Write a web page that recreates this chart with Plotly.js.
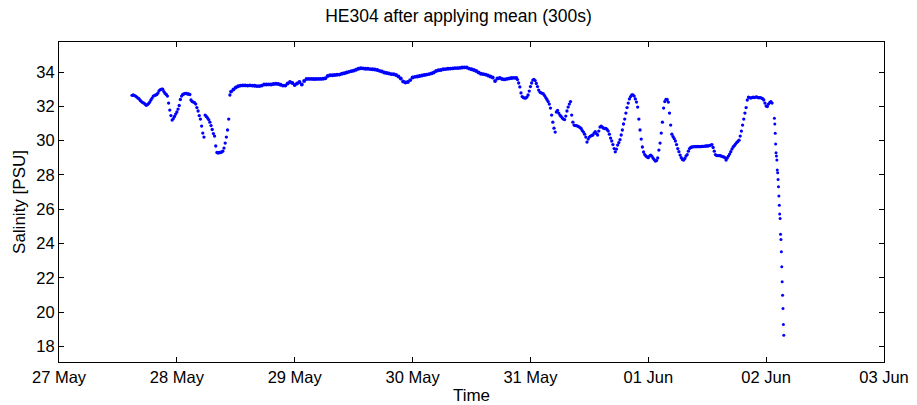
<!DOCTYPE html>
<html>
<head>
<meta charset="utf-8">
<script src="https://cdn.plot.ly/plotly-3.0.1.min.js"></script>
<style>html,body{margin:0;padding:0;background:#fff;}#chart{width:917px;height:405px;}</style>
</head>
<body>
<div id="chart"></div>
<script>
// Segment 1: 27 May 14:52:48, every 864 s
const seg1Start = '2009-05-27 14:52:48';
const seg1StepSec = 864;
const seg1Salinity = [
32.64,32.66,32.63,32.60,32.54,32.48,32.43,32.34,32.28,32.22,
32.19,32.13,32.06,32.10,32.16,32.25,32.37,32.48,32.60,32.63,
32.66,32.69,32.78,32.92,32.97,33.00,33.00,32.86,32.75,32.69,
32.60,32.19,31.78,31.46,31.20,31.29,31.41,31.55,31.67,31.84,
32.05,32.40,32.60,32.69,32.72,32.75,32.75,32.72,32.72,32.69,
32.37,32.28,32.25,32.22,32.13,31.93,31.73,31.46,31.26,30.85,
30.44,30.21,31.49,31.41,31.32,31.23,31.08,30.88,30.65,30.41,
30.27,29.69,29.31,29.28,29.31,29.31,29.34,29.39,29.57,29.86,
30.21,30.62,31.26,32.66];

// Segment 2: 28 May 11:02:24, every 1728 s
const seg2Start = '2009-05-28 11:02:24';
const seg2StepSec = 1728;
const seg2Salinity = [
32.86,32.98,33.10,33.17,33.21,33.22,33.22,33.21,33.22,33.21,
33.20,33.18,33.18,33.21,33.27,33.27,33.28,33.27,33.30,33.32,
33.30,33.26,33.21,33.21,33.33,33.42,33.36,33.24,33.33,33.42,
33.27,33.48,33.59,33.60,33.60,33.59,33.59,33.60,33.60,33.61,
33.64,33.77,33.81,33.81,33.83,33.84,33.85,33.90,33.93,33.97,
34.01,34.05,34.08,34.13,34.19,34.22,34.21,34.19,34.19,34.17,
34.16,34.15,34.12,34.07,34.03,33.97,33.94,33.91,33.88,33.87,
33.83,33.74,33.62,33.45,33.39,33.42,33.53,33.68,33.72,33.74,
33.77,33.80,33.83,33.85,33.88,33.92,33.97,34.06,34.10,34.12,
34.16,34.17,34.19,34.20,34.21,34.23,34.23,34.24,34.26,34.27,
34.26,34.20,34.16,34.12,34.06,33.97,33.90,33.88,33.85,33.80,
33.74,33.68,33.48,33.62,33.65,33.59,33.57,33.60,33.63,33.65,
33.66,33.65];

// Segment 3: 30 May 21:21:36, every 864 s
const seg3Start = '2009-05-30 21:21:36';
const seg3StepSec = 864;
const seg3Salinity = [
33.56,33.36,33.13,32.78,32.57,32.51,32.48,32.48,32.54,32.66,
32.89,33.15,33.36,33.53,33.57,33.50,33.33,33.15,32.95,32.83,
32.79,32.76,32.72,32.63,32.51,32.40,32.28,32.13,31.90,31.49,
31.08,30.73,30.50,31.67,31.76,31.61,31.49,31.41,31.32,31.26,
31.23,31.43,31.73,31.96,32.13,32.28,31.49,31.08,30.91,30.88,
30.88,30.85,30.82,30.76,30.71,30.59,30.50,30.38,30.21,29.92,
30.09,30.21,30.27,30.30,30.33,30.44,30.52,30.41,30.33,30.56,
30.79,30.85,30.79,30.73,30.71,30.71,30.65,30.56,30.38,30.15,
29.98,29.77,29.54,29.35,29.51,29.74,29.89,30.06,30.33,30.62,
30.97,31.26,31.61,31.93,32.19,32.43,32.57,32.66,32.67,32.60,
32.43,32.25,31.96,31.26,30.62,30.09,29.63,29.34,29.19,29.10,
29.05,29.01,29.10,29.16,29.10,28.99,28.90,28.81,28.84,28.99,
29.45,29.86,30.44,31.08,31.90,32.28,32.40,32.40,32.25,31.61,
30.91,30.38,30.24,30.12,29.98,29.77,29.54,29.36,29.16,29.01,
28.90,28.87,28.96,29.10,29.19,29.39,29.54,29.60,29.63,29.64,
29.65,29.65,29.65,29.66,29.65,29.65,29.66,29.67,29.67,29.68,
29.69,29.69,29.70,29.71,29.74,29.77,29.60,29.39,29.19,29.13,
29.13,29.13,29.12,29.10,29.07,29.05,29.01,28.87,28.99,29.10,
29.22,29.36,29.51,29.63,29.71,29.80,29.89,29.95,30.03,30.27,
30.56,30.91,31.26,31.61,31.93,32.37,32.54,32.51,32.48,32.51,
32.54,32.51,32.54,32.55,32.51,32.50,32.51,32.48,32.45,32.37,
32.19,32.02,31.99,32.13,32.22,32.28,32.19];

// Segment 4: 02 Jun 01:40:48, every 300 s
const seg4Start = '2009-06-02 01:40:48';
const seg4StepSec = 300;
const seg4Salinity = [
31.30,30.97,30.43,29.80,29.29,29.10,28.87,28.29,28.13,27.74,
27.31,26.77,26.24,25.72,25.47,24.55,24.24,23.52,22.65,21.77,
20.99,20.22,19.29,18.66];

const xTickVals = ['2009-05-27','2009-05-28','2009-05-29','2009-05-30','2009-05-31','2009-06-01','2009-06-02','2009-06-03'];
const xTickText = ['27 May','28 May','29 May','30 May','31 May','01 Jun','02 Jun','03 Jun'];
const yTickVals = [18,20,22,24,26,28,30,32,34];

function fmt(ms){ return new Date(ms).toISOString().slice(0,19).replace('T',' '); }
function times(start, step, n){
  const t0 = Date.parse(start.replace(' ','T') + 'Z');
  const out = [];
  for (let i = 0; i < n; i++) out.push(fmt(t0 + i*step*1000));
  return out;
}
const segs = [
  [seg1Start, seg1StepSec, seg1Salinity, 3.3],
  [seg2Start, seg2StepSec, seg2Salinity, 3.9],
  [seg3Start, seg3StepSec, seg3Salinity, 3.3],
  [seg4Start, seg4StepSec, seg4Salinity, 3.0]
];
const data = segs.map(s => ({
  type: 'scatter', mode: 'markers',
  x: times(s[0], s[1], s[2].length), y: s[2],
  marker: {color: '#0000ff', size: s[3], line: {width: 0}},
  hoverinfo: 'skip'
}));

const fam = '"Liberation Sans", Arial, sans-serif';
const tickFont = {family: fam, size: 16.5, color: '#000'};
const titleFont = {family: fam, size: 17, color: '#000'};
const layout = {
  width: 917, height: 405,
  margin: {l: 59, r: 33, t: 42, b: 43, pad: 0},
  paper_bgcolor: '#fff', plot_bgcolor: '#fff',
  font: tickFont,
  showlegend: false,
  title: {text: 'HE304 after applying mean (300s)', font: {family: fam, size: 17.5, color: '#000'}, x: 0.5, xanchor: 'center', y: 0.96, yanchor: 'middle'},
  xaxis: {
    type: 'date', range: ['2009-05-27', '2009-06-03'],
    tickmode: 'array', tickvals: xTickVals, ticktext: xTickText,
    ticks: 'inside', ticklen: 5, tickwidth: 1, tickcolor: '#000',
    showline: true, linecolor: '#000', linewidth: 1, mirror: 'ticks',
    showgrid: false, zeroline: false,
    tickfont: tickFont,
    title: {text: 'Time', font: titleFont, standoff: 4}
  },
  yaxis: {
    range: [17.1, 35.75],
    tickmode: 'array', tickvals: yTickVals,
    ticks: 'inside', ticklen: 5, tickwidth: 1, tickcolor: '#000',
    showline: true, linecolor: '#000', linewidth: 1, mirror: 'ticks',
    showgrid: false, zeroline: false,
    tickfont: tickFont,
    title: {text: 'Salinity [PSU]', font: titleFont, standoff: 6}
  }
};
Plotly.newPlot('chart', data, layout, {displayModeBar: false, staticPlot: true});
</script>
</body>
</html>
